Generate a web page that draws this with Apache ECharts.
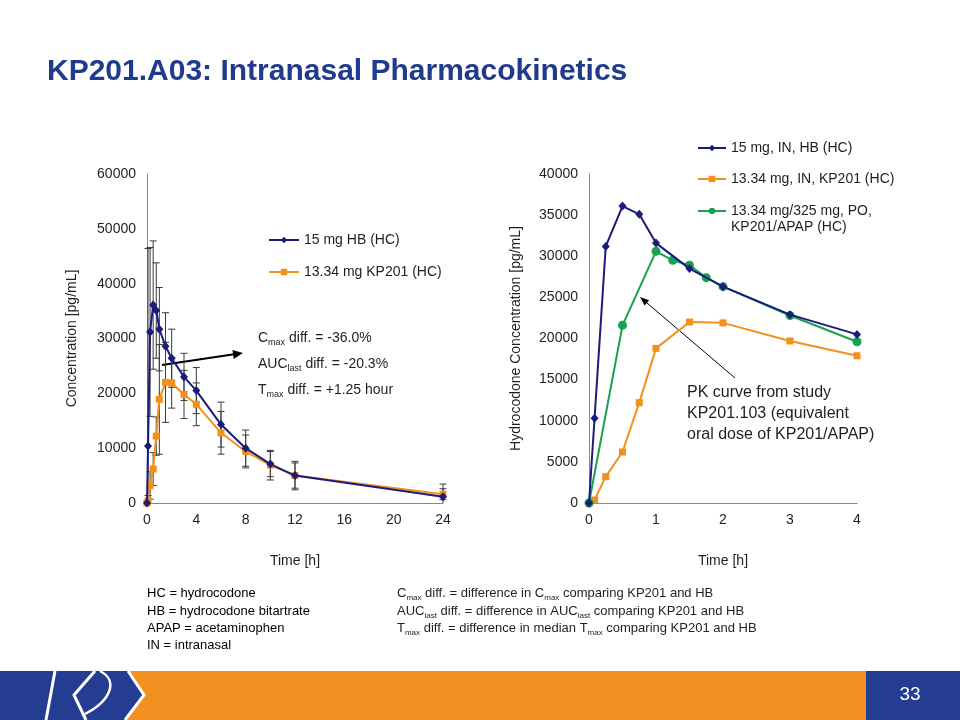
<!DOCTYPE html>
<html><head><meta charset="utf-8">
<script src="https://cdn.jsdelivr.net/npm/echarts@6/dist/echarts.min.js"></script>
<style>html,body{margin:0;padding:0;background:#fff}#c{width:960px;height:720px}</style>
</head><body><div id="c"></div>
<script>
const FONT = '"Liberation Sans", Arial, sans-serif';
// ---- Left chart (0-24 h, study KP201.A03) ----
const timesPK = [0, 0.083, 0.25, 0.5, 0.75, 1, 1.5, 2, 3, 4, 6, 8, 10, 12, 24];
const hbMean  = [0, 10400, 31200, 36100, 35100, 31700, 28600, 26400, 23000, 20500, 14300, 10000, 7100, 5000, 1150];
const hbSD    = [0, 36000, 15400, 11700, 8700, 7600, 6100, 5300, 4300, 4200, 4100, 3300, 2300, 2300, 2300];
const kpMean  = [0, 360, 3200, 6200, 12200, 18900, 22000, 21900, 19800, 18000, 12800, 9400, 6900, 5000, 1600];
const kpSD    = [0, 1000, 2500, 3000, 3500, 10000, 7300, 4600, 4400, 3900, 3900, 3000, 2700, 2600, 1000];
const leftXTicks = [0, 4, 8, 12, 16, 20, 24];
const leftYTicks = [0, 10000, 20000, 30000, 40000, 50000, 60000];
// ---- Right chart (0-4 h) ----
const timesIN  = [0, 0.083, 0.25, 0.5, 0.75, 1, 1.5, 2, 3, 4];
const inHbMean = [0, 10300, 31200, 36100, 35100, 31600, 28500, 26300, 22900, 20500];
const inKpMean = [0, 360, 3200, 6200, 12200, 18800, 22000, 21900, 19700, 17900];
const timesPO  = [0, 0.5, 1, 1.25, 1.5, 1.75, 2, 3, 4];
const poMean   = [0, 21600, 30600, 29500, 28900, 27400, 26300, 22800, 19600];
const rightXTicks = [0, 1, 2, 3, 4];
const rightYTicks = [0, 5000, 10000, 15000, 20000, 25000, 30000, 35000, 40000];

const leftNames = ['15 mg HB (HC)', '13.34 mg KP201 (HC)'];
const rightNames = ['15 mg, IN, HB (HC)', '13.34 mg, IN, KP201 (HC)', '13.34 mg/325 mg, PO,\nKP201/APAP (HC)'];

const NAVY = '#1B1B7C', ORANGE = '#F39019', GREEN = '#17A24F';
const AX = '#868686', TXT = '#1f1f1f';

const pairs = (xs, ys) => xs.map((x, i) => [x, ys[i]]);
const errData = (xs, m, s) => xs.map((x, i) => [x, m[i] - s[i], m[i] + s[i]]);

function renderErr(params, api) {
  const x = api.value(0), lo = api.value(1), hi = api.value(2);
  if (!(hi > lo)) return;
  const top = api.coord([x, hi]);
  const bot = api.coord([x, Math.max(lo, 0)]);
  const c = 3.5;
  const style = { stroke: '#3a3a3a', lineWidth: 1 };
  const ch = [
    { type: 'line', shape: { x1: top[0], y1: top[1], x2: bot[0], y2: bot[1] }, style },
    { type: 'line', shape: { x1: top[0] - c, y1: top[1], x2: top[0] + c, y2: top[1] }, style }
  ];
  if (lo > 0) ch.push({ type: 'line', shape: { x1: bot[0] - c, y1: bot[1], x2: bot[0] + c, y2: bot[1] }, style });
  return { type: 'group', children: ch };
}

function axisX(idx, ticks, nameStr) {
  return {
    type: 'value', gridIndex: idx, min: ticks[0], max: ticks[ticks.length - 1], interval: ticks[1] - ticks[0],
    axisLine: { show: true, onZero: false, lineStyle: { color: AX, width: 1 } },
    axisTick: { show: false }, splitLine: { show: false },
    axisLabel: { fontSize: 14, color: TXT, fontFamily: FONT, margin: 10, formatter: v => String(v) },
    name: nameStr, nameLocation: 'middle', nameGap: 51,
    nameTextStyle: { fontSize: 14, color: TXT, fontFamily: FONT }
  };
}
function axisY(idx, ticks, nameStr, gap) {
  return {
    type: 'value', gridIndex: idx, min: ticks[0], max: ticks[ticks.length - 1], interval: ticks[1] - ticks[0],
    axisLine: { show: true, lineStyle: { color: AX, width: 1 } },
    axisTick: { show: false }, splitLine: { show: false },
    axisLabel: { fontSize: 14, color: TXT, fontFamily: FONT, margin: 11, formatter: v => String(v) },
    name: nameStr, nameLocation: 'middle', nameGap: gap,
    nameTextStyle: { fontSize: 14, color: TXT, fontFamily: FONT }
  };
}

function arrow(x1, y1, x2, y2, w, head, hw) {
  const dx = x2 - x1, dy = y2 - y1, L = Math.hypot(dx, dy);
  const ux = dx / L, uy = dy / L;
  const bx = x2 - ux * head, by = y2 - uy * head;
  return [
    { type: 'line', shape: { x1, y1, x2: bx + ux * 1, y2: by + uy * 1 }, style: { stroke: '#000', lineWidth: w } },
    { type: 'polygon', shape: { points: [[x2, y2], [bx - uy * hw, by + ux * hw], [bx + uy * hw, by - ux * hw]] }, style: { fill: '#000' } }
  ];
}

const richSmall = (fs) => ({
  n: { fontSize: fs, fontFamily: FONT, color: TXT, lineHeight: fs + 4 },
  s: { fontSize: Math.round(fs * 0.64), fontFamily: FONT, color: TXT, lineHeight: 8, verticalAlign: 'bottom' }
});
function rtext(x, y, str, fs) {
  return { type: 'text', x, y, style: { text: str, rich: richSmall(fs), verticalAlign: 'middle', align: 'left', font: fs + 'px ' + FONT, fill: TXT } };
}
function ptext(x, y, str, fs, opts) {
  return Object.assign({ type: 'text', x, y, style: Object.assign({ text: str, fontSize: fs, fontFamily: FONT, fill: TXT, verticalAlign: 'middle', align: 'left' }, opts || {}) });
}

const graphics = [
  ptext(47, 72, 'KP201.A03: Intranasal Pharmacokinetics', 30, { fill: '#213B8C', fontWeight: 'bold' }),
  rtext(258, 338, '{n|C}{s|max}{n| diff. = -36.0%}', 14),
  rtext(258, 364, '{n|AUC}{s|last}{n| diff. = -20.3%}', 14),
  rtext(258, 390, '{n|T}{s|max}{n| diff. = +1.25 hour}', 14),
  ...arrow(162, 365, 243, 353, 2, 10, 4.5),
  ptext(687, 393, 'PK curve from study', 16),
  ptext(687, 414, 'KP201.103 (equivalent', 16),
  ptext(687, 435, 'oral dose of KP201/APAP)', 16),
  ...arrow(735, 378, 640, 297, 1, 9, 3.5),
  ptext(147, 593, 'HC = hydrocodone', 13, { fill: '#000' }),
  ptext(147, 611, 'HB = hydrocodone bitartrate', 13, { fill: '#000' }),
  ptext(147, 628, 'APAP = acetaminophen', 13, { fill: '#000' }),
  ptext(147, 645, 'IN = intranasal', 13, { fill: '#000' }),
  rtext(397, 593, '{n|C}{s|max}{n| diff. = difference in C}{s|max}{n| comparing KP201 and HB}', 13),
  rtext(397, 611, '{n|AUC}{s|last}{n| diff. = difference in AUC}{s|last}{n| comparing KP201 and HB}', 13),
  rtext(397, 628, '{n|T}{s|max}{n| diff. = difference in median T}{s|max}{n| comparing KP201 and HB}', 13),
  // footer band
  { type: 'rect', shape: { x: 0, y: 671, width: 960, height: 49 }, style: { fill: '#F39022' } },
  { type: 'polygon', shape: { points: [[0, 671], [128, 671], [144, 695], [125, 720], [0, 720]] }, style: { fill: '#243C91' } },
  { type: 'rect', shape: { x: 866, y: 671, width: 94, height: 49 }, style: { fill: '#243C91' } },
  { type: 'polyline', shape: { points: [[128, 671], [144, 695], [125, 720]] }, style: { stroke: '#fff', lineWidth: 3, fill: null } },
  { type: 'polyline', shape: { points: [[95, 671], [74, 695], [86, 720]] }, style: { stroke: '#fff', lineWidth: 3, fill: null } },
  { type: 'line', shape: { x1: 55, y1: 671, x2: 46, y2: 720 }, style: { stroke: '#fff', lineWidth: 3 } },
  { type: 'bezierCurve', shape: { x1: 100, y1: 671, cpx1: 118, cpy1: 680, cpx2: 112, cpy2: 700, x2: 85, y2: 714 }, style: { stroke: '#fff', lineWidth: 2.5, fill: null } },
  ptext(910, 695, '33', 19, { fill: '#fff', align: 'center' })
];

const legendText = { fontSize: 14, color: TXT, fontFamily: FONT, lineHeight: 16 };
const option = {
  animation: false,
  backgroundColor: '#fff',
  textStyle: { fontFamily: FONT },
  grid: [
    { left: 147, top: 174, width: 296, height: 329 },
    { left: 589, top: 174, width: 268, height: 329 }
  ],
  xAxis: [axisX(0, leftXTicks, 'Time [h]'), axisX(1, rightXTicks, 'Time [h]')],
  yAxis: [axisY(0, leftYTicks, 'Concentration [pg/mL]', 68), axisY(1, rightYTicks, 'Hydrocodone Concentration [pg/mL]', 66)],
  legend: [
    { data: leftNames, orient: 'vertical', left: 268, top: 232, padding: 0, itemWidth: 30, itemHeight: 8, itemGap: 16, selectedMode: false, textStyle: legendText },
    { data: rightNames.slice(0, 2), orient: 'vertical', left: 697, top: 140, padding: 0, itemWidth: 28, itemHeight: 8, itemGap: 15, selectedMode: false, textStyle: legendText },
    { data: rightNames.slice(2), orient: 'vertical', left: 697, top: 187, padding: 0, itemWidth: 28, itemHeight: 8, selectedMode: false, textStyle: legendText, formatter: n => ' \n' + n }
  ],
  series: [
    { type: 'custom', xAxisIndex: 0, yAxisIndex: 0, renderItem: renderErr, data: errData(timesPK, hbMean, hbSD), encode: { x: 0, y: [1, 2] }, z: 1, silent: true },
    { type: 'custom', xAxisIndex: 0, yAxisIndex: 0, renderItem: renderErr, data: errData(timesPK, kpMean, kpSD), encode: { x: 0, y: [1, 2] }, z: 1, silent: true },
    { name: leftNames[0], type: 'line', xAxisIndex: 0, yAxisIndex: 0, data: pairs(timesPK, hbMean), symbol: 'diamond', symbolSize: [8, 9], color: NAVY, lineStyle: { width: 2 }, z: 4 },
    { name: leftNames[1], type: 'line', xAxisIndex: 0, yAxisIndex: 0, data: pairs(timesPK, kpMean), symbol: 'rect', symbolSize: 7, color: ORANGE, lineStyle: { width: 2 }, z: 3 },
    { name: rightNames[0], type: 'line', xAxisIndex: 1, yAxisIndex: 1, data: pairs(timesIN, inHbMean), symbol: 'diamond', symbolSize: [8, 9], color: NAVY, lineStyle: { width: 2 }, z: 5 },
    { name: rightNames[1], type: 'line', xAxisIndex: 1, yAxisIndex: 1, data: pairs(timesIN, inKpMean), symbol: 'rect', symbolSize: 7, color: ORANGE, lineStyle: { width: 2 }, z: 3 },
    { name: rightNames[2], type: 'line', xAxisIndex: 1, yAxisIndex: 1, data: pairs(timesPO, poMean), symbol: 'circle', symbolSize: 9, color: GREEN, lineStyle: { width: 2 }, z: 4 }
  ],
  graphic: graphics
};
const chart = echarts.init(document.getElementById('c'), null, { renderer: 'canvas' });
chart.setOption(option);
</script></body></html>
